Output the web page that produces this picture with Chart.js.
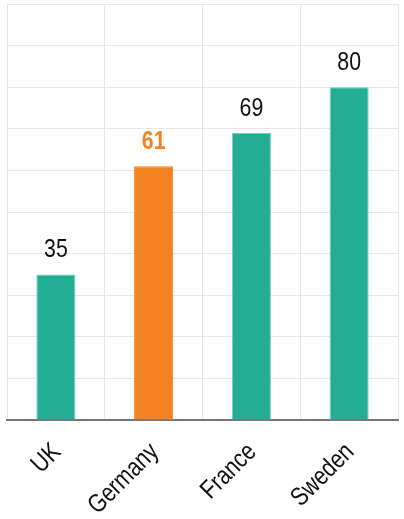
<!DOCTYPE html>
<html>
<head>
<meta charset="utf-8">
<script src="https://cdn.jsdelivr.net/npm/chart.js@4/dist/chart.umd.min.js"></script>
<style>
  html, body { margin: 0; padding: 0; background: #fff; }
  #wrap { width: 404px; height: 519px; }
</style>
</head>
<body>
<div id="wrap"><canvas id="barChart"></canvas></div>
<script>
var countries = ["UK", "Germany", "France", "Sweden"];
var scores = [35, 61, 69, 80];
var barColors = ["#23ad93", "#f38220", "#23ad93", "#23ad93"];
var edgeColors = ["#6fd0bd", "#f38220", "#6fd0bd", "#6fd0bd"];
var labelColors = ["#111", "#f38220", "#111", "#111"];
var labelBold = [false, true, false, false];

var FONT = "'Liberation Sans', Arial, sans-serif";
var NARROW = 0.82; // squeeze text sideways, like a condensed face

// value labels above each bar + rotated category labels under the axis
var narrowLabels = {
	id: "narrowLabels",
	afterDatasetsDraw: function (chart) {
		var ctx = chart.ctx;
		var meta = chart.getDatasetMeta(0);
		var xScale = chart.scales.x;
		var bottom = chart.chartArea.bottom;

		ctx.save();
		meta.data.forEach(function (bar, i) {
			ctx.save();
			ctx.translate(bar.x, bar.y - 17);
			ctx.scale(NARROW, 1);
			ctx.textAlign = "center";
			ctx.textBaseline = "alphabetic";
			ctx.font = (labelBold[i] ? "bold " : "") + "26px " + FONT;
			ctx.fillStyle = labelColors[i];
			ctx.fillText(String(scores[i]), 0, 0);
			ctx.restore();
		});

		countries.forEach(function (name, i) {
			ctx.save();
			ctx.translate(xScale.getPixelForValue(i) + 1, bottom + 28);
			ctx.rotate(-Math.PI / 4);
			ctx.scale(NARROW, 1);
			ctx.textAlign = "right";
			ctx.textBaseline = "middle";
			ctx.font = "26px " + FONT;
			ctx.fillStyle = "#111";
			ctx.fillText(name, 0, 0);
			ctx.restore();
		});
		ctx.restore();
	}
};

new Chart(document.getElementById("barChart"), {
	type: "bar",
	data: {
		labels: countries,
		datasets: [{
			data: scores,
			backgroundColor: barColors,
			borderColor: edgeColors,
			borderWidth: { left: 1, right: 1, top: 1, bottom: 0 },
			barPercentage: 0.4,
			categoryPercentage: 1.0
		}]
	},
	options: {
		responsive: true,
		maintainAspectRatio: false,
		animation: false,
		layout: { padding: { left: 7, right: 6, top: 4, bottom: 99 } },
		plugins: {
			legend: { display: false },
			tooltip: { enabled: false }
		},
		scales: {
			x: {
				grid: { color: "#e6e6e6", lineWidth: 1, drawTicks: false },
				border: { color: "#777", width: 2 },
				ticks: { display: false }
			},
			y: {
				min: 0,
				max: 100,
				ticks: { display: false, stepSize: 10 },
				grid: { color: "#e6e6e6", lineWidth: 1, drawTicks: false },
				border: { display: false }
			}
		}
	},
	plugins: [narrowLabels]
});
</script>
</body>
</html>
